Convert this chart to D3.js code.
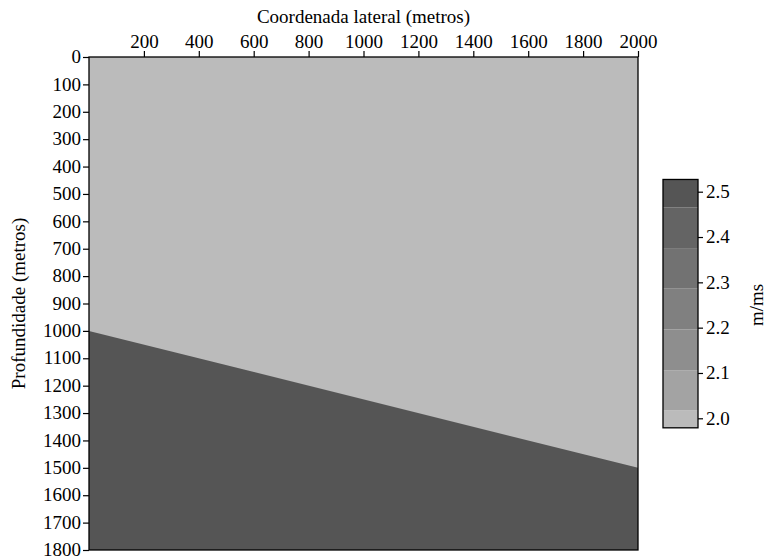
<!DOCTYPE html>
<html>
<head>
<meta charset="utf-8">
<script src="https://cdn.jsdelivr.net/npm/d3@7"></script>
<style>
  body { margin: 0; background: #fff; }
</style>
</head>
<body>
<div class="holder"></div>
<script>
// model: two layers split by a dipping interface
var interfaceX = [0, 2000];
var interfaceDepth = [1000, 1500];
var layerVelocity = [2.0, 2.5];
var layerColor = ["#bbbbbb", "#555555"];

// axes
var xTicks = [200, 400, 600, 800, 1000, 1200, 1400, 1600, 1800, 2000];
var yTicks = [0, 100, 200, 300, 400, 500, 600, 700, 800, 900, 1000, 1100, 1200, 1300, 1400, 1500, 1600, 1700, 1800];

// colorbar bands (contour levels) and their greys
var cbLevels = [1.979, 2.018, 2.106, 2.196, 2.287, 2.374, 2.465, 2.527];
var cbColors = ["#bbbbbb", "#a3a3a3", "#8e8e8e", "#808080", "#727272", "#646464", "#555555"];
var cbTicks = [2.0, 2.1, 2.2, 2.3, 2.4, 2.5];

(function() {
  var W = 768, H = 558;
  var mLeft = 89, mRight = 638, mTop = 57, mBottom = 550;
  var fontSize = 19;
  var serif = "'Liberation Serif', 'Times New Roman', Times, serif";

  var svg = d3.select(".holder").append("svg")
      .attr("width", W)
      .attr("height", H);

  var x = d3.scaleLinear().domain([0, 2000]).range([mLeft, mRight]);
  var y = d3.scaleLinear().domain([0, 1800]).range([mTop, mBottom]);

  // upper layer fills the whole box first
  svg.append("rect")
      .attr("x", x(0)).attr("y", y(0))
      .attr("width", x(2000) - x(0)).attr("height", y(1800) - y(0))
      .style("fill", layerColor[0]);

  // lower layer below the interface
  var lowerPoly = interfaceX.map(function(d, i) { return [x(d), y(interfaceDepth[i])]; });
  lowerPoly.push([x(2000), y(1800)], [x(0), y(1800)]);
  svg.append("path")
      .attr("d", d3.line()(lowerPoly) + "Z")
      .style("fill", layerColor[1]);

  // frame
  svg.append("rect")
      .attr("x", mLeft).attr("y", mTop)
      .attr("width", mRight - mLeft).attr("height", mBottom - mTop)
      .style("fill", "none").style("stroke", "#000").style("stroke-width", 1.3);

  var xAxis = svg.append("g")
      .attr("transform", "translate(0," + mTop + ")")
      .call(d3.axisTop(x).tickValues(xTicks).tickFormat(d3.format("d")).tickSize(6).tickPadding(3));
  var yAxis = svg.append("g")
      .attr("transform", "translate(" + mLeft + ",0)")
      .call(d3.axisLeft(y).tickValues(yTicks).tickFormat(d3.format("d")).tickSize(6).tickPadding(2));

  var cbLeft = 663, cbRight = 698;
  var cy = d3.scaleLinear().domain([2.0, 2.5]).range([418.3, 191.7]);

  // colorbar
  svg.selectAll(".band")
      .data(cbColors)
      .enter().append("rect")
      .attr("class", "band")
      .attr("x", cbLeft)
      .attr("width", cbRight - cbLeft)
      .attr("y", function(d, i) { return cy(cbLevels[i + 1]); })
      .attr("height", function(d, i) { return cy(cbLevels[i]) - cy(cbLevels[i + 1]); })
      .style("fill", function(d) { return d; });

  svg.append("rect")
      .attr("x", cbLeft).attr("y", cy(cbLevels[cbLevels.length - 1]))
      .attr("width", cbRight - cbLeft)
      .attr("height", cy(cbLevels[0]) - cy(cbLevels[cbLevels.length - 1]))
      .style("fill", "none").style("stroke", "#000").style("stroke-width", 1.3);

  var cAxis = svg.append("g")
      .attr("transform", "translate(" + cbRight + ",0)")
      .call(d3.axisRight(cy).tickValues(cbTicks).tickFormat(d3.format(".1f")).tickSize(5).tickPadding(3));

  [xAxis, yAxis, cAxis].forEach(function(a) {
    a.select(".domain").remove();
    a.selectAll("line").style("stroke", "#000").style("stroke-width", 1.2);
  });
  yAxis.selectAll("text").attr("dy", "0.3em");
  cAxis.selectAll("text").attr("dy", "0.3em");

  svg.append("text")
      .attr("x", (mLeft + mRight) / 2).attr("y", 23)
      .attr("text-anchor", "middle")
      .text("Coordenada lateral (metros)");

  svg.append("text")
      .attr("transform", "translate(25," + (mTop + mBottom) / 2 + ") rotate(-90)")
      .attr("text-anchor", "middle")
      .text("Profundidade (metros)");

  svg.append("text")
      .attr("transform", "translate(763," + cy(2.25) + ") rotate(-90)")
      .attr("text-anchor", "middle")
      .text("m/ms");

  // one font for every text, set inline on the text itself
  svg.selectAll("text")
      .style("font-family", serif)
      .style("font-size", fontSize + "px")
      .style("fill", "#000");
})();
</script>
</body>
</html>
